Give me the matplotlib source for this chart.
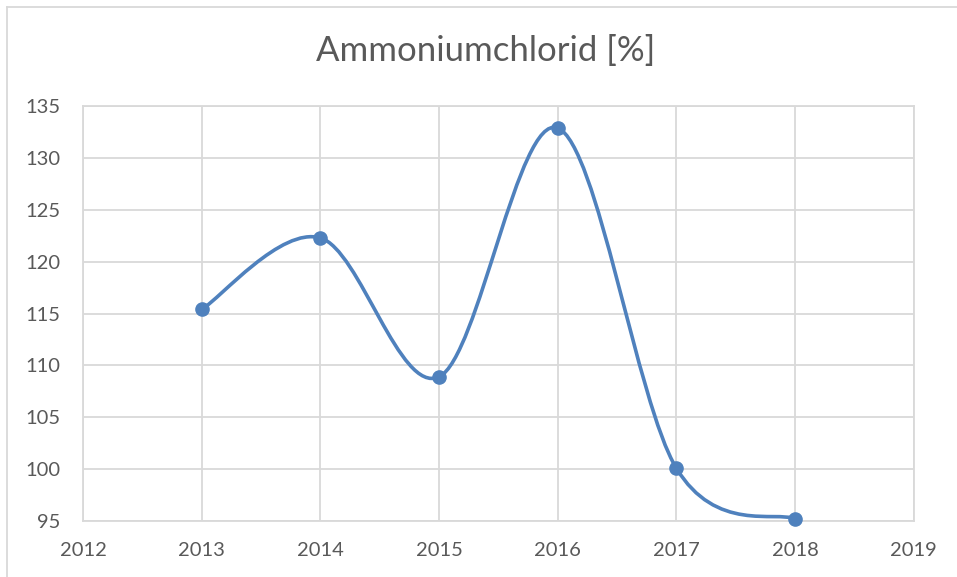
import numpy as np
import matplotlib
matplotlib.use('Agg')
import matplotlib.pyplot as plt
from matplotlib.path import Path
from matplotlib.patches import PathPatch

plt.rcParams['font.family'] = ['Lato', 'DejaVu Sans']

years = [2013, 2014, 2015, 2016, 2017, 2018]
values = [115.4, 122.3, 108.9, 132.9, 100.1, 95.2]
title = 'Ammoniumchlorid [%]'

blue = '#4f81bd'
grey_text = '#595959'
grid = '#d9d9d9'

fig = plt.figure(figsize=(9.57, 5.77), dpi=100)
ax = fig.add_axes([0.0867, 0.097, 0.868, 0.719])

# smoothed line like Excel (Catmull-Rom as cubic Bezier)
pts = np.column_stack([years, values]).astype(float)
verts = [tuple(pts[0])]
codes = [Path.MOVETO]
n = len(pts)
for i in range(n - 1):
    p0 = pts[i - 1] if i > 0 else pts[i]
    p1 = pts[i]
    p2 = pts[i + 1]
    p3 = pts[i + 2] if i + 2 < n else pts[i + 1]
    c1 = p1 + (p2 - p0) / 6
    c2 = p2 - (p3 - p1) / 6
    verts += [tuple(c1), tuple(c2), tuple(p2)]
    codes += [Path.CURVE4] * 3
ax.add_patch(PathPatch(Path(verts, codes), facecolor='none', edgecolor=blue,
                       lw=2.6, zorder=3, capstyle='round'))
ax.plot(years, values, 'o', color=blue, markersize=9.5, zorder=4, clip_on=False)

ax.set_xlim(2012, 2019)
ax.set_ylim(95, 135)
ax.set_xticks(range(2012, 2020))
ax.set_yticks(range(95, 136, 5))
ax.grid(True, color=grid, lw=1.3)
ax.set_axisbelow(True)
for s in ax.spines.values():
    s.set_color(grid)
    s.set_linewidth(1.3)
ax.tick_params(length=0, colors=grey_text, labelsize=14.5)
ax.tick_params(axis='x', pad=15)
ax.tick_params(axis='y', pad=16)

fig.text(0.507, 0.912, title, ha='center', va='center', fontsize=25, color=grey_text)

# chart area border (cropped at right/bottom)
fig.add_artist(plt.Line2D([7 / 957, 7 / 957], [0, 1 - 7 / 577], color=grid, lw=1.3))
fig.add_artist(plt.Line2D([7 / 957, 1], [1 - 7 / 577, 1 - 7 / 577], color=grid, lw=1.3))

fig.savefig('out.png', dpi=100)
